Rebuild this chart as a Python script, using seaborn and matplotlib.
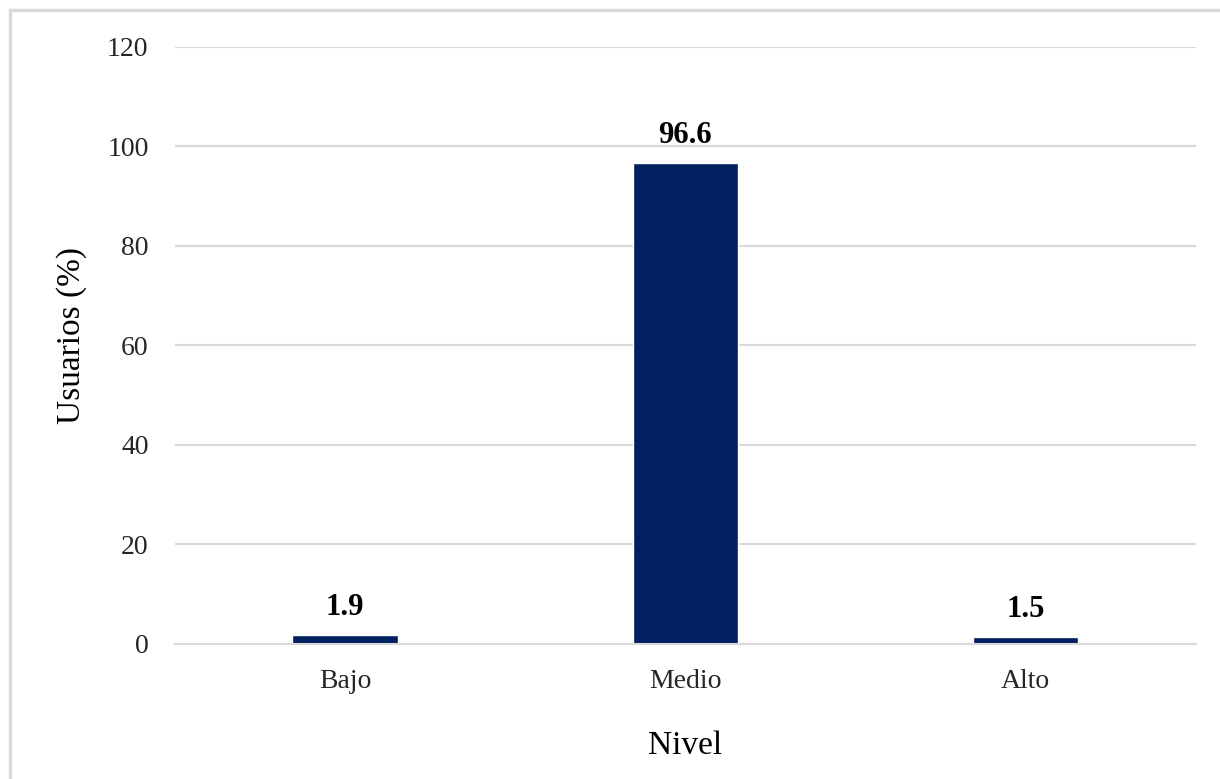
import numpy as np
import pandas as pd
import matplotlib.pyplot as plt
import seaborn as sns
from matplotlib.patches import Rectangle

niveles = ['Bajo', 'Medio', 'Alto']
usuarios = [1.9, 96.6, 1.5]
etiquetas = ['1.9', '96.6', '1.5']

df = pd.DataFrame({'Nivel': niveles, 'Usuarios': usuarios})

sns.set_style('white')
plt.rcParams['font.family'] = ['Liberation Serif', 'DejaVu Serif']

fig = plt.figure(figsize=(12.2, 7.79), dpi=100)
ax = fig.add_axes([0.1434, 0.1733, 0.8366, 0.7664])

sns.barplot(x='Nivel', y='Usuarios', data=df, color='#002060', width=0.31,
            saturation=1, ax=ax)

ax.set_ylim(0, 120)
ax.set_yticks(np.arange(0, 121, 20))
ax.yaxis.grid(True, color='#d9d9d9', linewidth=1.5)
ax.set_axisbelow(True)
for s in ['top', 'right', 'left']:
    ax.spines[s].set_visible(False)
ax.spines['bottom'].set_color('#d9d9d9')
ax.spines['bottom'].set_linewidth(1.5)
ax.tick_params(axis='both', length=0, labelsize=20, colors='#262626')
ax.tick_params(axis='y', pad=19)
ax.tick_params(axis='x', pad=18)

for i, v in enumerate(usuarios):
    ax.text(i, v + 2.6, etiquetas[i], ha='center', va='bottom',
            fontsize=22, fontweight='bold', color='black')

ax.set_xlabel('Nivel', fontsize=24, labelpad=26, color='black')
ax.set_ylabel('Usuarios (%)', fontsize=24, color='black')
ax.yaxis.set_label_coords(-0.086, 0.517)

# marco gris del grafico
fig.patches.append(Rectangle((10 / 1220, -0.1), 1.2, 1 - 10 / 779 + 0.1,
                             transform=fig.transFigure, fill=False,
                             edgecolor='#d9d9d9', linewidth=2.5))

fig.savefig('out.png', dpi=100)
